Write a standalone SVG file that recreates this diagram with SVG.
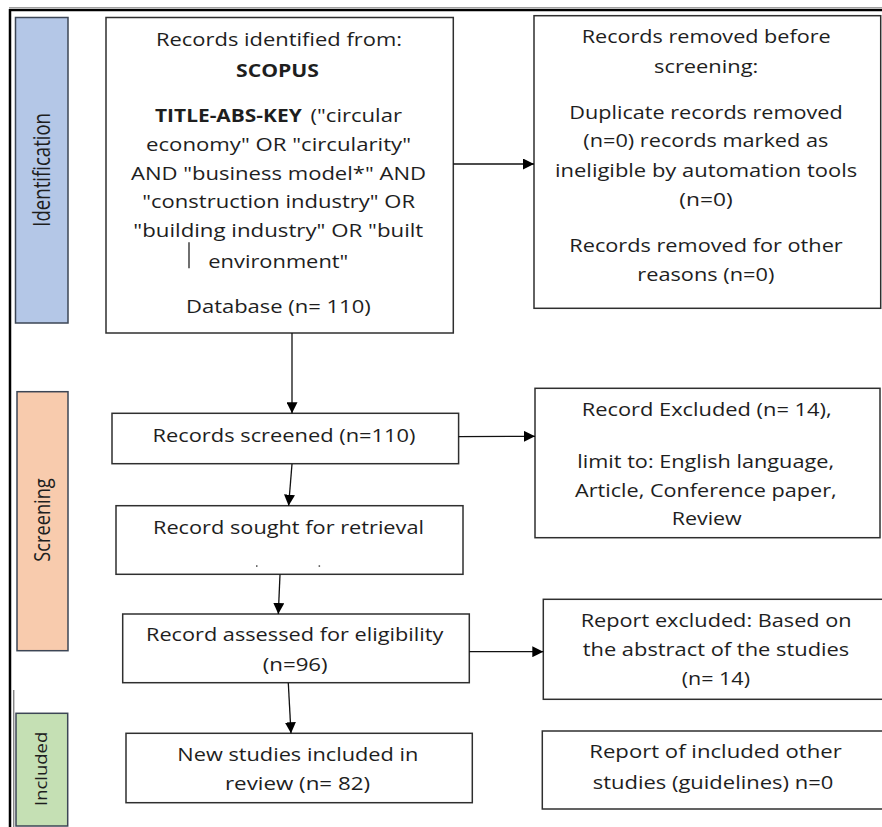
<svg xmlns="http://www.w3.org/2000/svg" width="882" height="827" viewBox="0 0 882 827">
<defs>
<style>
.box{fill:#ffffff;stroke:#2f2f2f;stroke-width:1.5}
.t{font-family:"Open Sans","Liberation Sans",sans-serif;font-size:18px;fill:#1e1e1e}
.b{font-weight:bold}
.side{font-family:"Open Sans","Liberation Sans",sans-serif;fill:#1e1e1e}
.conn{stroke:#111;stroke-width:1.3;fill:none}
</style>
<marker id="ah" markerUnits="userSpaceOnUse" markerWidth="12" markerHeight="11" refX="11" refY="5.5" orient="auto">
<path d="M0,0 L11,5.5 L0,11 Z" fill="#000"/>
</marker>
</defs>
<rect width="882" height="827" fill="#ffffff"/>
<g id="frame">
<line x1="9" y1="7.5" x2="882" y2="7.5" stroke="#a0a0a0" stroke-width="1"/>
<line x1="9" y1="10" x2="882" y2="10" stroke="#000" stroke-width="2.5"/>
<line x1="10" y1="9" x2="10" y2="827" stroke="#000" stroke-width="2.5"/>
<line x1="13.8" y1="690" x2="13.8" y2="827" stroke="#555" stroke-width="1"/>
</g>
<g id="phase-identification">
<rect x="15.5" y="17.5" width="52.5" height="305.5" fill="#b4c7e7" stroke="#3c4655" stroke-width="1.5"/>
<text class="side" font-size="23" transform="translate(50,226.7) rotate(-90)" x="0" y="0" textLength="113.7" lengthAdjust="spacingAndGlyphs">Identification</text>
</g>
<g id="phase-screening">
<rect x="17" y="391.7" width="51" height="259" fill="#f8cbad" stroke="#3c4655" stroke-width="1.5"/>
<text class="side" font-size="22" transform="translate(50,561.7) rotate(-90)" x="0" y="0" textLength="83.4" lengthAdjust="spacingAndGlyphs">Screening</text>
</g>
<g id="phase-included">
<rect x="16" y="713.3" width="51.7" height="112.7" fill="#c5e0b4" stroke="#3c4655" stroke-width="1.5"/>
<text class="side" font-size="17" transform="translate(46.7,806) rotate(-90)" x="0" y="0" textLength="74.3" lengthAdjust="spacingAndGlyphs">Included</text>
</g>
<g id="records-identified">
<rect class="box" x="106" y="17.5" width="347.3" height="315.5"/>
<text class="t" x="156" y="45.7" textLength="246" lengthAdjust="spacingAndGlyphs">Records identified from:</text>
<text class="t b" x="236" y="76.7" textLength="83" lengthAdjust="spacingAndGlyphs">SCOPUS</text>
<text class="t b" x="155" y="121.7" textLength="146.7" lengthAdjust="spacingAndGlyphs">TITLE-ABS-KEY</text>
<text class="t" x="310.5" y="121.7" textLength="91.5" lengthAdjust="spacingAndGlyphs">("circular</text>
<text class="t" x="146" y="150.7" textLength="265" lengthAdjust="spacingAndGlyphs">economy" OR "circularity"</text>
<text class="t" x="131" y="180" textLength="295" lengthAdjust="spacingAndGlyphs">AND "business model*" AND</text>
<text class="t" x="142.3" y="208.3" textLength="272.7" lengthAdjust="spacingAndGlyphs">"construction industry" OR</text>
<text class="t" x="133.3" y="237.3" textLength="290" lengthAdjust="spacingAndGlyphs">"building industry" OR "built</text>
<line x1="189" y1="242.3" x2="189" y2="268.3" stroke="#222" stroke-width="1.3"/>
<text class="t" x="208.3" y="268" textLength="140" lengthAdjust="spacingAndGlyphs">environment"</text>
<text class="t" x="186" y="313.3" textLength="184.7" lengthAdjust="spacingAndGlyphs">Database (n= 110)</text>
</g>
<g id="records-removed">
<rect class="box" x="534" y="15.7" width="346.7" height="292.6"/>
<text class="t" x="581.7" y="43.3" textLength="249" lengthAdjust="spacingAndGlyphs">Records removed before</text>
<text class="t" x="654" y="73.3" textLength="104.3" lengthAdjust="spacingAndGlyphs">screening:</text>
<text class="t" x="569.3" y="119" textLength="273.4" lengthAdjust="spacingAndGlyphs">Duplicate records removed</text>
<text class="t" x="583.3" y="147.3" textLength="245" lengthAdjust="spacingAndGlyphs">(n=0) records marked as</text>
<text class="t" x="555" y="176.7" textLength="302.3" lengthAdjust="spacingAndGlyphs">ineligible by automation tools</text>
<text class="t" x="679.3" y="205.7" textLength="53.4" lengthAdjust="spacingAndGlyphs">(n=0)</text>
<text class="t" x="569.3" y="252.3" textLength="273.4" lengthAdjust="spacingAndGlyphs">Records removed for other</text>
<text class="t" x="637.3" y="281" textLength="137" lengthAdjust="spacingAndGlyphs">reasons (n=0)</text>
</g>
<g id="records-screened">
<rect class="box" x="112" y="413.3" width="346.6" height="50.4"/>
<text class="t" x="152.5" y="441.7" textLength="263" lengthAdjust="spacingAndGlyphs">Records screened (n=110)</text>
</g>
<g id="record-excluded">
<rect class="box" x="535" y="388.3" width="345" height="149.4"/>
<text class="t" x="581.7" y="416" textLength="250" lengthAdjust="spacingAndGlyphs">Record Excluded (n= 14),</text>
<text class="t" x="577.3" y="468.3" textLength="256.7" lengthAdjust="spacingAndGlyphs">limit to: English language,</text>
<text class="t" x="575" y="496.7" textLength="261.7" lengthAdjust="spacingAndGlyphs">Article, Conference paper,</text>
<text class="t" x="671.7" y="525" textLength="70" lengthAdjust="spacingAndGlyphs">Review</text>
</g>
<g id="record-sought">
<rect class="box" x="116" y="505.7" width="347" height="68.6"/>
<text class="t" x="153" y="534" textLength="271" lengthAdjust="spacingAndGlyphs">Record sought for retrieval</text>
<rect x="256" y="565.3" width="1.5" height="1.5" fill="#444"/>
<rect x="318.6" y="565.3" width="1.5" height="1.5" fill="#444"/>
</g>
<g id="record-assessed">
<rect class="box" x="122.7" y="614" width="346.6" height="68.7"/>
<text class="t" x="146" y="641" textLength="297.3" lengthAdjust="spacingAndGlyphs">Record assessed for eligibility</text>
<text class="t" x="262.7" y="671" textLength="65" lengthAdjust="spacingAndGlyphs">(n=96)</text>
</g>
<g id="report-excluded">
<rect class="box" x="543.3" y="599.3" width="340" height="100"/>
<text class="t" x="580.7" y="626.7" textLength="271" lengthAdjust="spacingAndGlyphs">Report excluded: Based on</text>
<text class="t" x="582.7" y="655.7" textLength="266.6" lengthAdjust="spacingAndGlyphs">the abstract of the studies</text>
<text class="t" x="681.7" y="685" textLength="68.3" lengthAdjust="spacingAndGlyphs">(n= 14)</text>
</g>
<g id="new-studies">
<rect class="box" x="126" y="733.3" width="346.3" height="69.4"/>
<text class="t" x="177.3" y="761" textLength="241" lengthAdjust="spacingAndGlyphs">New studies included in</text>
<text class="t" x="225" y="790" textLength="145" lengthAdjust="spacingAndGlyphs">review (n= 82)</text>
</g>
<g id="report-other">
<rect class="box" x="542.3" y="731" width="341" height="78"/>
<text class="t" x="589.3" y="758.3" textLength="252.4" lengthAdjust="spacingAndGlyphs">Report of included other</text>
<text class="t" x="592.7" y="789" textLength="240.6" lengthAdjust="spacingAndGlyphs">studies (guidelines) n=0</text>
</g>
<g id="connectors">
<line class="conn" x1="453.3" y1="164" x2="534" y2="164" marker-end="url(#ah)"/>
<line class="conn" x1="292" y1="333" x2="292" y2="413.3" marker-end="url(#ah)"/>
<line class="conn" x1="458.6" y1="436.7" x2="535" y2="436.3" marker-end="url(#ah)"/>
<line class="conn" x1="292" y1="464" x2="288.6" y2="505.7" marker-end="url(#ah)"/>
<line class="conn" x1="280" y1="574.5" x2="278.3" y2="614" marker-end="url(#ah)"/>
<line class="conn" x1="469.3" y1="651.7" x2="543.3" y2="651.7" marker-end="url(#ah)"/>
<line class="conn" x1="288.3" y1="683" x2="291" y2="733.3" marker-end="url(#ah)"/>
</g>
</svg>
